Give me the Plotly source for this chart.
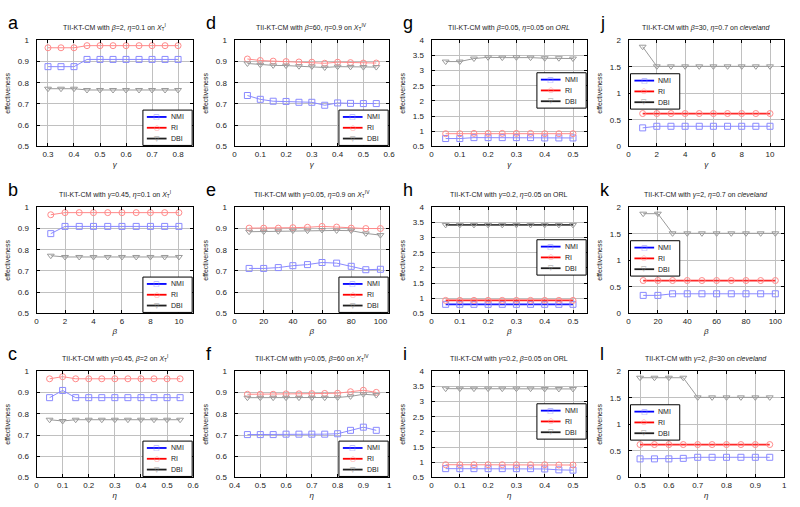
import plotly.graph_objects as go

W, H = 800, 507
FONT = "Liberation Sans, Arial, sans-serif"

# ---------------- data ----------------
x_a = [0.3, 0.35, 0.4, 0.45, 0.5, 0.55, 0.6, 0.65, 0.7, 0.75, 0.8]
nmi_a = [0.876, 0.876, 0.876, 0.91, 0.91, 0.91, 0.91, 0.91, 0.91, 0.91, 0.91]
ri_a = [0.965, 0.965, 0.965, 0.975, 0.975, 0.975, 0.975, 0.975, 0.975, 0.975, 0.975]
dbi_a = [0.772, 0.772, 0.772, 0.766, 0.766, 0.766, 0.766, 0.766, 0.766, 0.766, 0.766]

x_b = [1, 2, 3, 4, 5, 6, 7, 8, 9, 10]
nmi_b = [0.876, 0.91, 0.91, 0.91, 0.91, 0.91, 0.91, 0.91, 0.91, 0.91]
ri_b = [0.965, 0.975, 0.975, 0.975, 0.975, 0.975, 0.975, 0.975, 0.975, 0.975]
dbi_b = [0.772, 0.766, 0.766, 0.766, 0.766, 0.766, 0.766, 0.766, 0.766, 0.766]

x_c = [0.05, 0.1, 0.15, 0.2, 0.25, 0.3, 0.35, 0.4, 0.45, 0.5, 0.55]
nmi_c = [0.876, 0.91, 0.876, 0.876, 0.876, 0.876, 0.876, 0.876, 0.876, 0.876, 0.876]
ri_c = [0.965, 0.975, 0.965, 0.965, 0.965, 0.965, 0.965, 0.965, 0.965, 0.965, 0.965]
dbi_c = [0.772, 0.766, 0.772, 0.772, 0.772, 0.772, 0.772, 0.772, 0.772, 0.772, 0.772]

x_d = [0.05, 0.1, 0.15, 0.2, 0.25, 0.3, 0.35, 0.4, 0.45, 0.5, 0.55]
nmi_d = [0.74, 0.722, 0.713, 0.712, 0.708, 0.708, 0.694, 0.705, 0.703, 0.702, 0.702]
ri_d = [0.912, 0.905, 0.902, 0.9, 0.898, 0.897, 0.892, 0.897, 0.895, 0.893, 0.893]
dbi_d = [0.891, 0.885, 0.882, 0.881, 0.878, 0.877, 0.872, 0.876, 0.875, 0.874, 0.874]

x_e = [10, 20, 30, 40, 50, 60, 70, 80, 90, 100]
nmi_e = [0.712, 0.712, 0.716, 0.725, 0.73, 0.74, 0.737, 0.722, 0.706, 0.708]
ri_e = [0.902, 0.902, 0.902, 0.904, 0.906, 0.91, 0.907, 0.902, 0.9, 0.9]
dbi_e = [0.885, 0.886, 0.887, 0.89, 0.89, 0.893, 0.891, 0.89, 0.877, 0.869]

x_f = [0.45, 0.5, 0.55, 0.6, 0.65, 0.7, 0.75, 0.8, 0.85, 0.9, 0.95]
nmi_f = [0.702, 0.702, 0.702, 0.704, 0.704, 0.704, 0.704, 0.706, 0.722, 0.737, 0.722]
ri_f = [0.892, 0.892, 0.892, 0.894, 0.894, 0.895, 0.896, 0.897, 0.904, 0.911, 0.901]
dbi_f = [0.876, 0.876, 0.876, 0.876, 0.876, 0.876, 0.876, 0.877, 0.882, 0.892, 0.888]

x_g = [0.05, 0.1, 0.15, 0.2, 0.25, 0.3, 0.35, 0.4, 0.45, 0.5]
nmi_g = [0.76, 0.76, 0.79, 0.79, 0.79, 0.79, 0.79, 0.78, 0.78, 0.78]
ri_g = [0.92, 0.92, 0.93, 0.93, 0.93, 0.93, 0.93, 0.92, 0.92, 0.92]
dbi_g = [3.3, 3.3, 3.4, 3.44, 3.43, 3.44, 3.43, 3.41, 3.41, 3.4]

x_h = [0.05, 0.1, 0.15, 0.2, 0.25, 0.3, 0.35, 0.4, 0.45, 0.5]
nmi_h = [0.8, 0.8, 0.8, 0.8, 0.8, 0.8, 0.8, 0.8, 0.8, 0.8]
ri_h = [0.93, 0.93, 0.93, 0.93, 0.93, 0.93, 0.93, 0.93, 0.93, 0.93]
dbi_h = [3.42, 3.42, 3.42, 3.42, 3.42, 3.42, 3.42, 3.42, 3.42, 3.42]

x_i = [0.05, 0.1, 0.15, 0.2, 0.25, 0.3, 0.35, 0.4, 0.45, 0.5]
nmi_i = [0.79, 0.79, 0.79, 0.79, 0.79, 0.79, 0.79, 0.78, 0.75, 0.74]
ri_i = [0.92, 0.92, 0.92, 0.92, 0.92, 0.92, 0.92, 0.92, 0.91, 0.91]
dbi_i = [3.43, 3.43, 3.43, 3.43, 3.43, 3.43, 3.43, 3.42, 3.42, 3.42]

x_j = [1, 2, 3, 4, 5, 6, 7, 8, 9, 10]
nmi_j = [0.35, 0.38, 0.38, 0.38, 0.38, 0.38, 0.38, 0.38, 0.38, 0.38]
ri_j = [0.62, 0.62, 0.62, 0.62, 0.62, 0.62, 0.62, 0.62, 0.62, 0.62]
dbi_j = [1.88, 1.51, 1.51, 1.51, 1.51, 1.51, 1.51, 1.51, 1.51, 1.51]

x_k = [10, 20, 30, 40, 50, 60, 70, 80, 90, 100]
nmi_k = [0.34, 0.34, 0.37, 0.37, 0.37, 0.37, 0.37, 0.37, 0.37, 0.37]
ri_k = [0.62, 0.62, 0.62, 0.62, 0.62, 0.62, 0.62, 0.62, 0.62, 0.62]
dbi_k = [1.88, 1.88, 1.51, 1.51, 1.51, 1.51, 1.51, 1.51, 1.51, 1.51]

x_l = [0.5, 0.55, 0.6, 0.65, 0.7, 0.75, 0.8, 0.85, 0.9, 0.95]
nmi_l = [0.35, 0.35, 0.35, 0.36, 0.38, 0.38, 0.38, 0.38, 0.38, 0.38]
ri_l = [0.62, 0.62, 0.62, 0.62, 0.62, 0.62, 0.62, 0.62, 0.62, 0.62]
dbi_l = [1.88, 1.88, 1.88, 1.88, 1.51, 1.51, 1.51, 1.51, 1.51, 1.51]

series_names = ["NMI", "RI", "DBI"]

XT1 = "<i>X</i><sub>T</sub><sup>I</sup>"
XT4 = "<i>X</i><sub>T</sub><sup>IV</sup>"
titles = {
    "a": "TII-KT-CM with <i>β</i>=2, <i>η</i>=0.1 on " + XT1,
    "b": "TII-KT-CM with <i>γ</i>=0.45, <i>η</i>=0.1 on " + XT1,
    "c": "TII-KT-CM with <i>γ</i>=0.45, <i>β</i>=2 on " + XT1,
    "d": "TII-KT-CM with <i>β</i>=60, <i>η</i>=0.9 on " + XT4,
    "e": "TII-KT-CM with <i>γ</i>=0.05, <i>η</i>=0.9 on " + XT4,
    "f": "TII-KT-CM with <i>γ</i>=0.05, <i>β</i>=60 on " + XT4,
    "g": "TII-KT-CM with <i>β</i>=0.05, <i>η</i>=0.05 on <i>ORL</i>",
    "h": "TII-KT-CM with <i>γ</i>=0.2, <i>η</i>=0.05 on ORL",
    "i": "TII-KT-CM with <i>γ</i>=0.2, <i>β</i>=0.05 on ORL",
    "j": "TII-KT-CM with <i>β</i>=30, <i>η</i>=0.7 on <i>cleveland</i>",
    "k": "TII-KT-CM with <i>γ</i>=2, <i>η</i>=0.7 on <i>cleveland</i>",
    "l": "TII-KT-CM with <i>γ</i>=2, <i>β</i>=30 on <i>cleveland</i>",
}
xlabels = {"a": "γ", "d": "γ", "g": "γ", "j": "γ",
           "b": "β", "e": "β", "h": "β", "k": "β",
           "c": "η", "f": "η", "i": "η", "l": "η"}

panel_data = {
    "a": (x_a, nmi_a, ri_a, dbi_a), "b": (x_b, nmi_b, ri_b, dbi_b),
    "c": (x_c, nmi_c, ri_c, dbi_c), "d": (x_d, nmi_d, ri_d, dbi_d),
    "e": (x_e, nmi_e, ri_e, dbi_e), "f": (x_f, nmi_f, ri_f, dbi_f),
    "g": (x_g, nmi_g, ri_g, dbi_g), "h": (x_h, nmi_h, ri_h, dbi_h),
    "i": (x_i, nmi_i, ri_i, dbi_i), "j": (x_j, nmi_j, ri_j, dbi_j),
    "k": (x_k, nmi_k, ri_k, dbi_k), "l": (x_l, nmi_l, ri_l, dbi_l),
}

# ---------------- layout / styles ----------------
cols = [(31, 190), (232, 389), (432, 590), (632, 790)]
rows = [(37, 145), (207, 315), (374, 482)]
grid_letters = [["a", "d", "g", "j"], ["b", "e", "h", "k"], ["c", "f", "i", "l"]]

xranges = {"a": [0.256, 0.858], "b": [0, 11], "c": [0, 0.6], "d": [0, 0.6],
           "e": [0, 106], "f": [0.4, 1], "g": [0, 0.55], "h": [0, 0.55],
           "i": [0, 0.55], "j": [0, 11], "k": [0, 106], "l": [0.46, 1]}
xdticks = {"a": 0.1, "b": 2, "c": 0.1, "d": 0.1, "e": 20, "f": 0.1,
           "g": 0.1, "h": 0.1, "i": 0.1, "j": 2, "k": 20, "l": 0.1}
yranges = {1: [0.5, 1], 2: [0.5, 4], 3: [0, 2]}
ydticks = {1: 0.1, 2: 0.5, 3: 0.5}

light = {"NMI": "#8a8aff", "RI": "#ff8a8a", "DBI": "#9a9a9a"}
strong = {"NMI": "#2020ff", "RI": "#ff2a2a", "DBI": "#404040"}
legend_line = {"NMI": "#0000ff", "RI": "#ff0000", "DBI": "#202020"}
symbols = {"NMI": "square-open", "RI": "circle-open", "DBI": "triangle-down-open"}
glyphs = {"NMI": "□", "RI": "○", "DBI": "▽"}
strong_map = {"h": ["NMI", "RI", "DBI"], "j": ["RI"], "k": ["RI"], "l": ["RI"]}

fig = go.Figure()
shapes, annotations = [], []

def px_x(v):
    return v / W

def px_y(v):
    return 1 - v / H

idx = 0
for r, (top, bot) in enumerate(rows):
    for c, (left, right) in enumerate(cols):
        idx += 1
        L = grid_letters[r][c]
        grp = {0: 1, 1: 1, 2: 2, 3: 3}[c]
        xa = "x" if idx == 1 else f"x{idx}"
        ya = "y" if idx == 1 else f"y{idx}"
        xs, nmi, ri, dbi = panel_data[L]
        for name, ys in zip(series_names, (nmi, ri, dbi)):
            is_strong = name in strong_map.get(L, [])
            col = strong[name] if is_strong else light[name]
            fig.add_trace(go.Scatter(
                x=xs, y=ys, xaxis=xa, yaxis=ya, mode="lines+markers",
                name=name, showlegend=False,
                line=dict(color=col, width=1.8 if is_strong else 1),
                marker=dict(symbol=symbols[name], size=6,
                            color=light[name], line=dict(color=light[name], width=1)),
            ))
        axis_common = dict(showline=True, linecolor="black", linewidth=1,
                           mirror="ticks", ticks="inside", ticklen=3,
                           tickcolor="black", showgrid=True,
                           gridcolor="#c0c0c0", gridwidth=1, zeroline=False,
                           tickfont=dict(family=FONT, size=8, color="#222"))
        fig.layout[("xaxis" if idx == 1 else f"xaxis{idx}")] = dict(
            domain=[px_x(left), px_x(right)], anchor=ya,
            range=xranges[L], dtick=xdticks[L], tick0=0,
            title=dict(text=f"<i>{xlabels[L]}</i>", standoff=3,
                       font=dict(family=FONT, size=8, color="#222")),
            **axis_common)
        fig.layout[("yaxis" if idx == 1 else f"yaxis{idx}")] = dict(
            domain=[px_y(bot), px_y(top)], anchor=xa,
            range=yranges[grp], dtick=ydticks[grp], tick0=0,
            ticklabelstandoff=5,
            title=dict(text="effectiveness", standoff=6,
                       font=dict(family=FONT, size=7, color="#222")),
            **axis_common)
        # panel letter
        annotations.append(dict(text=L, xref="paper", yref="paper",
                                x=px_x(left - 31), y=px_y(top - 30),
                                xanchor="left", yanchor="top", showarrow=False,
                                font=dict(family=FONT, size=18, color="black")))
        # title
        annotations.append(dict(text=titles[L], xref="paper", yref="paper",
                                x=px_x((left + right) / 2), y=px_y(top - 6),
                                xanchor="center", yanchor="bottom", showarrow=False,
                                font=dict(family=FONT, size=7, color="#222")))
        # legend box
        bw, bh = 50, 36
        if c <= 1:
            bx0, by0 = right - bw - 1, bot - bh - 1
        elif c == 2:
            bx0, by0 = right - bw - 1, top + 33
        else:
            bx0, by0 = left + 2, top + 34
        shapes.append(dict(type="rect", xref="paper", yref="paper",
                           x0=px_x(bx0), x1=px_x(bx0 + bw),
                           y0=px_y(by0), y1=px_y(by0 + bh),
                           line=dict(color="black", width=1),
                           fillcolor="white", layer="above"))
        for k, name in enumerate(series_names):
            yy = by0 + 7 + k * 11
            shapes.append(dict(type="line", xref="paper", yref="paper",
                               x0=px_x(bx0 + 4), x1=px_x(bx0 + 24),
                               y0=px_y(yy), y1=px_y(yy),
                               line=dict(color=legend_line[name], width=1.8),
                               layer="above"))
            annotations.append(dict(text=glyphs[name], xref="paper", yref="paper",
                                    x=px_x(bx0 + 14), y=px_y(yy),
                                    xanchor="center", yanchor="middle",
                                    showarrow=False,
                                    font=dict(family="DejaVu Sans", size=7,
                                              color=light[name])))
            annotations.append(dict(text=name, xref="paper", yref="paper",
                                    x=px_x(bx0 + 26), y=px_y(yy),
                                    xanchor="left", yanchor="middle",
                                    showarrow=False,
                                    font=dict(family=FONT, size=7, color="#222")))

fig.update_layout(width=W, height=H, margin=dict(l=0, r=0, t=0, b=0),
                  paper_bgcolor="white", plot_bgcolor="white",
                  showlegend=False, shapes=shapes, annotations=annotations)

fig.write_html("out.html",
               config={"displayModeBar": False},
               post_script="document.body.style.margin='0px';"
                           "document.body.style.overflow='hidden';")
